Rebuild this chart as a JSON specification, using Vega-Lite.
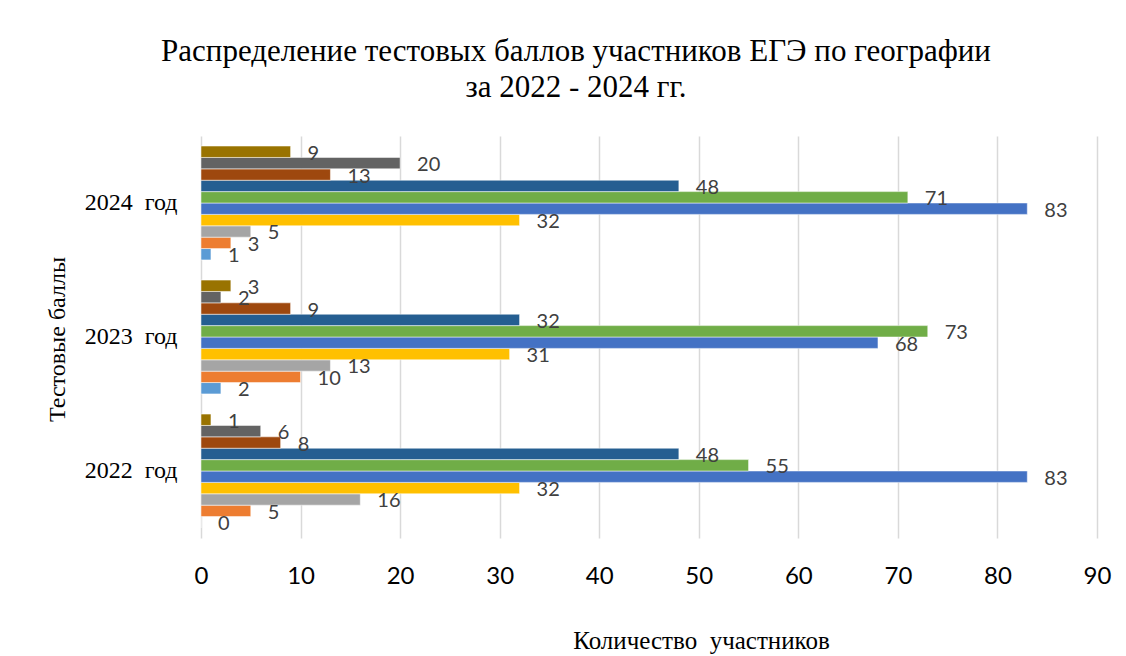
{
  "$schema": "https://vega.github.io/schema/vega-lite/v6.json",
  "width": 896,
  "height": 402,
  "autosize": {"type": "none"},
  "padding": {"left": 201, "top": 136, "right": 29, "bottom": 118},
  "background": "white",
  "title": {
    "text": ["Распределение тестовых баллов участников ЕГЭ по географии", "за 2022 - 2024 гг."],
    "font": "'Liberation Serif', 'DejaVu Serif', serif",
    "fontSize": 31,
    "fontWeight": "normal",
    "color": "#000000",
    "lineHeight": 36,
    "anchor": "middle",
    "dx": -73,
    "offset": 32
  },
  "data": {
    "values": [
      {"year": "2022 год", "s": "s01", "v": 0},
      {"year": "2022 год", "s": "s02", "v": 5},
      {"year": "2022 год", "s": "s03", "v": 16},
      {"year": "2022 год", "s": "s04", "v": 32},
      {"year": "2022 год", "s": "s05", "v": 83},
      {"year": "2022 год", "s": "s06", "v": 55},
      {"year": "2022 год", "s": "s07", "v": 48},
      {"year": "2022 год", "s": "s08", "v": 8},
      {"year": "2022 год", "s": "s09", "v": 6},
      {"year": "2022 год", "s": "s10", "v": 1},
      {"year": "2023 год", "s": "s01", "v": 2},
      {"year": "2023 год", "s": "s02", "v": 10},
      {"year": "2023 год", "s": "s03", "v": 13},
      {"year": "2023 год", "s": "s04", "v": 31},
      {"year": "2023 год", "s": "s05", "v": 68},
      {"year": "2023 год", "s": "s06", "v": 73},
      {"year": "2023 год", "s": "s07", "v": 32},
      {"year": "2023 год", "s": "s08", "v": 9},
      {"year": "2023 год", "s": "s09", "v": 2},
      {"year": "2023 год", "s": "s10", "v": 3},
      {"year": "2024 год", "s": "s01", "v": 1},
      {"year": "2024 год", "s": "s02", "v": 3},
      {"year": "2024 год", "s": "s03", "v": 5},
      {"year": "2024 год", "s": "s04", "v": 32},
      {"year": "2024 год", "s": "s05", "v": 83},
      {"year": "2024 год", "s": "s06", "v": 71},
      {"year": "2024 год", "s": "s07", "v": 48},
      {"year": "2024 год", "s": "s08", "v": 13},
      {"year": "2024 год", "s": "s09", "v": 20},
      {"year": "2024 год", "s": "s10", "v": 9}
    ]
  },
  "encoding": {
    "y": {
      "field": "year",
      "type": "nominal",
      "sort": ["2024 год", "2023 год", "2022 год"],
      "scale": {"paddingInner": 0.15, "paddingOuter": 0.075},
      "axis": {
        "title": "Тестовые баллы",
        "titleFont": "'Liberation Serif', 'DejaVu Serif', serif",
        "titleFontSize": 24,
        "titleFontWeight": "normal",
        "titleColor": "#000000",
        "titleX": -144,
        "titleY": 203,
        "titleAlign": "center",
        "titleBaseline": "middle",
        "titleAngle": -90,
        "labelFont": "'Liberation Serif', 'DejaVu Serif', serif",
        "labelFontSize": 24,
        "labelColor": "#000000",
        "labelPadding": 24,
        "labelExpr": "replace(datum.label, ' ', ' \u00a0')",
        "ticks": false,
        "domain": false,
        "grid": false
      }
    },
    "yOffset": {
      "field": "s",
      "type": "nominal",
      "sort": "descending",
      "scale": {"paddingInner": 0, "paddingOuter": 0}
    },
    "x": {
      "field": "v",
      "type": "quantitative",
      "scale": {"domain": [0, 90], "nice": false},
      "axis": {
        "values": [0, 10, 20, 30, 40, 50, 60, 70, 80, 90],
        "title": "Количество \u00a0участников",
        "titleFont": "'Liberation Serif', 'DejaVu Serif', serif",
        "titleFontSize": 25,
        "titleFontWeight": "normal",
        "titleColor": "#000000",
        "titleX": 500,
        "titleY": 102,
        "titleAlign": "center",
        "titleBaseline": "middle",
        "labelFont": "Lato",
        "labelFontSize": 24,
        "labelColor": "#000000",
        "labelPadding": 26,
        "labelFlush": false,
        "ticks": false,
        "domain": false,
        "grid": true,
        "gridColor": "#D9D9D9",
        "gridWidth": 1.5
      }
    }
  },
  "layer": [
    {
      "mark": {"type": "bar", "stroke": "white", "strokeWidth": 0.5},
      "encoding": {
        "color": {
          "field": "s",
          "type": "nominal",
          "legend": null,
          "scale": {
            "domain": ["s01", "s02", "s03", "s04", "s05", "s06", "s07", "s08", "s09", "s10"],
            "range": ["#5B9BD5", "#ED7D31", "#A5A5A5", "#FFC000", "#4472C4", "#70AD47", "#255E91", "#9E480E", "#636363", "#997300"]
          }
        }
      }
    },
    {
      "mark": {"type": "text", "align": "left", "baseline": "middle", "dx": 17, "dy": 2, "font": "Lato", "fontSize": 20, "color": "#404040"},
      "encoding": {
        "text": {"field": "v", "type": "quantitative"}
      }
    }
  ],
  "config": {
    "view": {"stroke": null}
  }
}
